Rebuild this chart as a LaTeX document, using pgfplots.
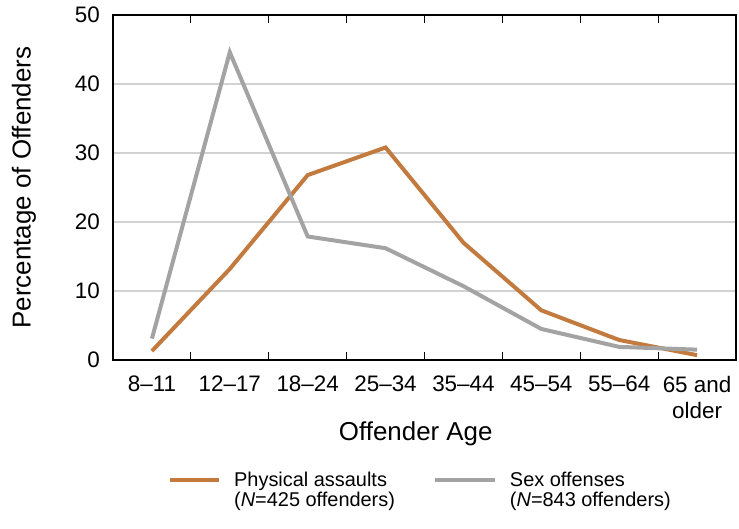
\documentclass[border=0pt]{standalone}
\usepackage{pgfplots}
\pgfplotsset{compat=1.18}
\usepackage{fontspec}
\setmainfont{Liberation Sans}
\definecolor{assault}{RGB}{194,122,62}
\definecolor{sexoff}{RGB}{163,163,163}
\definecolor{gridc}{RGB}{210,210,210}
\pgfplotsset{
  legA/.style={legend image code/.code={\draw[##1, line width=4bp] (0bp,9.5bp) -- (49bp,9.5bp);}},
  legB/.style={legend image code/.code={\draw[##1, line width=4bp] (0bp,9.5bp) -- (60bp,9.5bp);}},
}
\begin{document}
\begin{tikzpicture}
\useasboundingbox (-113bp,-169bp) rectangle (626bp,360bp);
\begin{axis}[
  at={(0,0)}, anchor=south west,
  scale only axis, width=623bp, height=345bp,
  xmin=-0.5, xmax=7.5, ymin=0, ymax=50,
  xtick={0,1,2,3,4,5,6,7},
  xticklabels={8--11,12--17,18--24,25--34,35--44,45--54,55--64,{65 and\\older}},
  extra x ticks={0.5,1.5,2.5,3.5,4.5,5.5,6.5},
  extra x tick labels={},
  extra x tick style={major tick length=8bp, tick style={black, line width=1.2bp}, grid=none, tick align=inside},
  ytick={0,10,20,30,40,50},
  major tick length=0pt,
  ymajorgrids, grid style={gridc, line width=1.3bp},
  axis line style={black, line width=1.3bp},
  /pgf/number format/assume math mode=true,
  ticklabel style={font=\fontsize{22.5}{26}\selectfont},
  yticklabel style={inner sep=0pt, anchor=east, xshift=-13bp},
  xticklabel style={inner sep=0pt, anchor=north, yshift=-16bp, align=center},
  xlabel={Offender Age},
  ylabel={Percentage of Offenders},
  every axis x label/.style={at={([yshift=-80bp]axis description cs:0.486,0)}, anchor=base, font=\fontsize{26}{30}\selectfont},
  every axis y label/.style={at={([xshift=-89bp]axis description cs:0,0.5)}, rotate=90, anchor=center, font=\fontsize{26}{30}\selectfont},
  legend columns=2,
  legend cell align=left,
  legend style={draw=none, fill=none, inner sep=0pt, at={([xshift=55bp,yshift=-110bp]axis description cs:0,0)}, anchor=north west,
    font=\fontsize{20}{19.5}\selectfont,
    cells={align=left},
    /tikz/every odd column/.append style={column sep=11bp},
    /tikz/every even column/.append style={column sep=36bp}},
]
\addplot[assault, line width=4bp, legA] coordinates {
  (0,1.3) (1,13.2) (2,26.8) (3,30.8) (4,17.0) (5,7.2) (6,2.9) (7,0.7)};
\addplot[sexoff, line width=4bp, legB] coordinates {
  (0,3.1) (1,44.6) (2,17.9) (3,16.2) (4,10.7) (5,4.5) (6,1.9) (7,1.5)};
\legend{{Physical assaults\\(\textit{N}=425 offenders)},{Sex offenses\\(\textit{N}=843 offenders)}}
\end{axis}
\end{tikzpicture}
\end{document}
